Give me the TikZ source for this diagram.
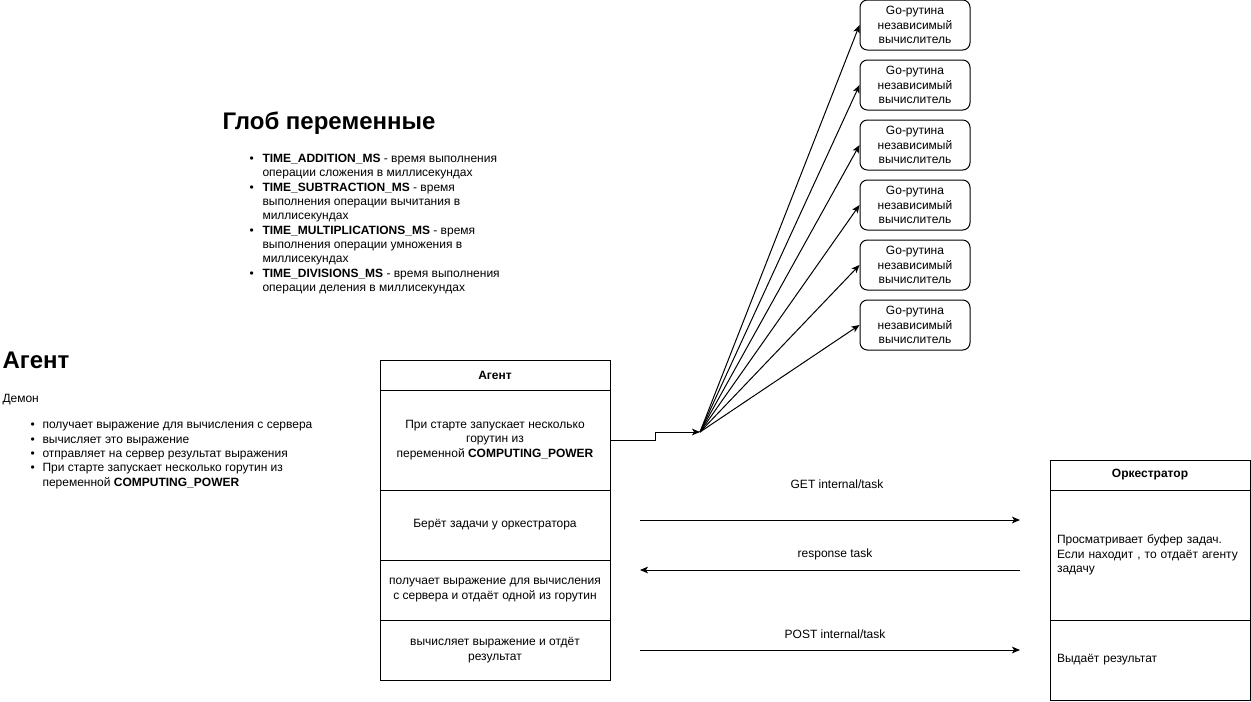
\documentclass[tikz,border=0pt]{standalone}
\usepackage{fontspec}
\setmainfont{Liberation Sans}
\usetikzlibrary{arrows.meta}
\begin{document}
\begin{tikzpicture}[x=0.75pt,y=-0.75pt,line width=0.75pt,
  every node/.style={font=\fontsize{9}{10.9}\selectfont},
  txt/.style={anchor=base west, inner sep=0pt},
  heading/.style={anchor=base west, inner sep=0pt, font=\fontsize{18}{21}\selectfont\bfseries},
  cellA/.style={draw, minimum width=172.5pt, align=center, inner sep=0pt},
  cellO/.style={draw, minimum width=150pt, text width=139.5pt, inner xsep=5.25pt, inner ysep=0pt, align=left},
  gobox/.style={draw, rounded corners=5.5pt, minimum width=82.5pt, minimum height=37.5pt, align=center, inner sep=0pt},
  arr/.style={-{Stealth[length=6pt,width=5pt,inset=1.5pt]}}]
\useasboundingbox[fill=white] (0,0) rectangle (1251,701);

% --- Global variables
\node[heading] (gh) at (222,129) {Глоб переменные};
\node[txt] (gb1) at (249,162) {•};
\node[txt] (g1a) at (262,162) {\textbf{TIME\_ADDITION\_MS} - время выполнения};
\node[txt] (g1b) at (262,176) {операции сложения в миллисекундах};
\node[txt] (gb2) at (249,191) {•};
\node[txt] (g2a) at (262,191) {\textbf{TIME\_SUBTRACTION\_MS} - время};
\node[txt] (g2b) at (262,205) {выполнения операции вычитания в};
\node[txt] (g2c) at (262,219) {миллисекундах};
\node[txt] (gb3) at (249,234) {•};
\node[txt] (g3a) at (262,234) {\textbf{TIME\_MULTIPLICATIONS\_MS} - время};
\node[txt] (g3b) at (262,248) {выполнения операции умножения в};
\node[txt] (g3c) at (262,262) {миллисекундах};
\node[txt] (gb4) at (249,277) {•};
\node[txt] (g4a) at (262,277) {\textbf{TIME\_DIVISIONS\_MS} - время выполнения};
\node[txt] (g4b) at (262,291) {операции деления в миллисекундах};

% --- Agent description
\node[heading] (ah) at (2,368) {Агент};
\node[txt] (ad) at (2,402) {Демон};
\node[txt] (ab1) at (30,428) {•};
\node[txt] (a1) at (42,428) {получает выражение для вычисления с сервера};
\node[txt] (ab2) at (30,443) {•};
\node[txt] (a2) at (42,443) {вычисляет это выражение};
\node[txt] (ab3) at (30,457) {•};
\node[txt] (a3) at (42,457) {отправляет на сервер результат выражения};
\node[txt] (ab4) at (30,471) {•};
\node[txt] (a4a) at (42,471) {При старте запускает несколько горутин из};
\node[txt] (a4b) at (42,486) {переменной \textbf{COMPUTING\_POWER}};

% --- Agent table
\node[cellA, minimum height=22.5pt, font=\fontsize{9}{10.9}\selectfont\bfseries] (ag) at (495,375) {Агент};
\node[cellA, minimum height=75pt] (ar1) at (495,440) {При старте запускает несколько\\горутин из\\переменной \textbf{COMPUTING\_POWER}};
\node[cellA, minimum height=52.5pt] (ar2) at (495,525) {Берёт задачи у оркестратора};
\node[cellA, minimum height=45pt] (ar3) at (495,590) {получает выражение для вычисления\\с сервера и отдаёт одной из горутин};
\node[cellA, minimum height=45pt] (ar4) at (495,650) {вычисляет выражение и отдёт\\результат};

% --- Orchestrator table
\node[cellO, minimum height=22.5pt, align=center, font=\fontsize{9}{10.9}\selectfont\bfseries] (or) at (1150,475) {Оркестратор};
\node[cellO, minimum height=97.5pt] (or1) at (1150,555) {Просматривает буфер задач.\\Если находит , то отдаёт агенту\\задачу};
\node[cellO, minimum height=60pt] (or2) at (1150,660) {Выдаёт результат};

% --- Goroutines
\foreach \i/\yy in {1/25,2/85,3/145,4/205,5/265,6/325}{
  \node[gobox] (go\i) at (915,\yy) {Go-рутина\\независимый\\вычислитель};
}

% --- fan
\coordinate (fan) at (700,432);
\draw[arr] (ar1.east) -- (655,440) |- (fan);
\foreach \i in {1,...,6}{
  \draw[arr] (fan) -- (go\i.west);
}

% --- messages
\coordinate (getS) at (640,520);
\coordinate (getE) at (1020,520);
\coordinate (resS) at (1020,570);
\coordinate (resE) at (640,570);
\coordinate (posS) at (640,650);
\coordinate (posE) at (1020,650);
\draw[arr] (getS) -- (getE);
\draw[arr] (resS) -- (resE);
\draw[arr] (posS) -- (posE);
\node (getL) at (837,484) {GET internal/task};
\node (resL) at (835,554) {response task};
\node (posL) at (835,634) {POST internal/task};
\end{tikzpicture}
\end{document}
